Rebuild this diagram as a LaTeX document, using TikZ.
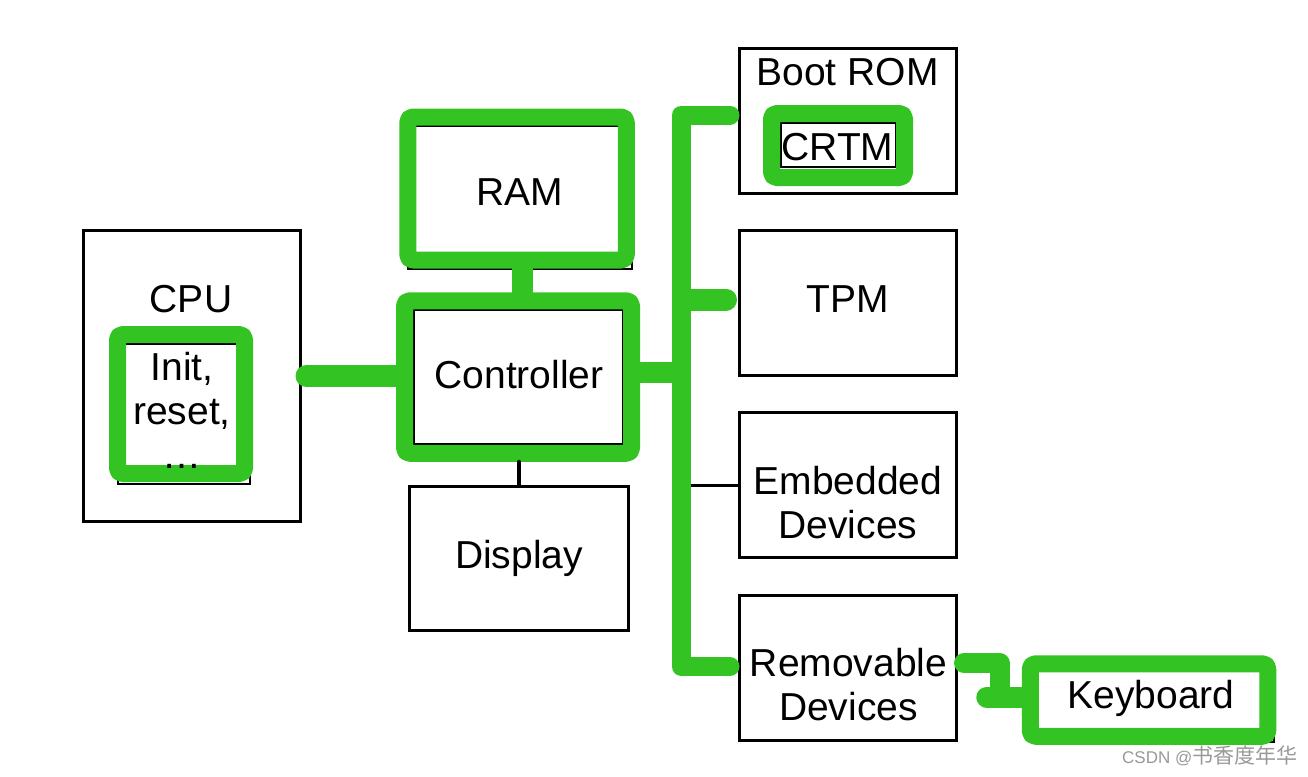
\documentclass[tikz,border=0pt]{standalone}
\usepackage{fontspec}
\setmainfont{Liberation Sans}
\newfontfamily\cjk{Noto Sans CJK SC}
\usetikzlibrary{calc}
\definecolor{ttcctt}{rgb}{0.2,0.77,0.14}
\definecolor{zzzzzz}{rgb}{0.6,0.6,0.6}
\begin{document}
\begin{tikzpicture}[line cap=round,line join=round,x=1pt,y=-1pt,
	every node/.append style={font=\fontsize{39}{44}\selectfont},
	box/.style={draw=black,line width=3pt,line join=miter,fill=white,inner sep=0pt,align=center,minimum width=217pt,minimum height=145pt},
	under/.style={draw=black,line width=2.5pt,line join=miter,fill=white,inner sep=0pt},
	hl/.style={draw=ttcctt,line width=17pt,rounded corners=5pt,inner sep=0pt},
	txt/.style={inner sep=0pt,align=center},
	wire/.style={draw=ttcctt,line width=21pt}]
		\path[fill=white,use as bounding box] (0,0) rectangle (1308,776);
		% CPU
		\node[box,minimum height=291pt] (cpu) at (192,376) {};
		\node[txt] (cpulbl) at (191,299.5) {CPU};
		\node[under,minimum width=132pt,minimum height=140pt] (initbg) at (184,414) {};
		\node[hl,minimum width=127pt,minimum height=139pt] (init) at (181,404) {};
		\node[txt] (initlbl) at (182,410) {Init,\\reset,\\…};
		% RAM, controller, display
		\node[under,minimum width=224pt,minimum height=143pt] (rambg) at (520,197.5) {};
		\node[hl,minimum width=218.5pt,minimum height=143pt] (ram) at (517,188.5) {};
		\node[txt] (ramlbl) at (520,192.5) {RAM};
		\node[under,minimum width=209pt,minimum height=134pt] (ctrlbg) at (518.5,377) {};
		\node[hl,minimum width=227pt,minimum height=152.5pt] (ctrl) at (518,377) {};
		\node[txt] (ctrllbl) at (519,375) {Controller};
		\node[box,minimum width=219pt,minimum height=144pt] (disp) at (519,558.5) {Display};
		% right column
		\node[box] (boot) at (848,121) {};
		\node[txt] (bootlbl) at (847.5,72) {Boot ROM};
		\node[under,minimum width=115pt,minimum height=44pt] (crtmbg) at (838.5,145) {};
		\node[hl,minimum width=133pt,minimum height=64pt] (crtm) at (838,145.5) {};
		\node[txt] (crtmlbl) at (837.5,147.5) {CRTM};
		\node[box] (tpm) at (848,303) {};
		\node[txt] (tpmlbl) at (848,299) {TPM};
		\node[box] (emb) at (848,485) {};
		\node[txt] (emblbl) at (848,502.5) {Embedded\\Devices};
		\node[box] (rem) at (848,667.5) {};
		\node[txt] (remlbl) at (848.5,684.5) {Removable\\Devices};
		% keyboard
		\node[under,minimum width=244pt,minimum height=78pt] (kbdbg) at (1152,703) {};
		\node[hl,minimum width=237.5pt,minimum height=72.5pt] (kbd) at (1149,700) {};
		\node[txt] (kbdlbl) at (1151,698) {Keyboard};
		% bus and connectors
		\coordinate (jtop) at (681,115);
		\coordinate (jbot) at (681,666.5);
		\coordinate (jtpm) at (681,299.5);
		\coordinate (jctrl) at (681,372.5);
		\coordinate (kup) at (999.5,663);
		\coordinate (kdown) at (999.5,697);
		\draw [line width=4pt] (disp.north |- ctrl.south) -- (disp.north);
		\draw [line width=3pt] (emb.west) -- (emb.west -| jtop);
		\draw [wire,line width=19pt] ($(boot.west |- jtop)+(-8,0)$) -- (jtop) -- (jbot) -- ($(rem.west |- jbot)+(-8,0)$);
		\draw [wire,line width=22pt] ($(jtpm)+(10,0)$) -- ($(tpm.west |- jtpm)+(-12,0)$);
		\draw [wire] (ctrl.east |- jctrl) -- ($(jctrl)+(-2,0)$);
		\draw [wire,line width=22pt] ([xshift=4.5pt]cpu.east) -- (cpu.east -| ctrl.west);
		\draw [wire] ([xshift=5pt]ram.south) -- ([xshift=5pt]ram.south |- ctrl.north);
		\draw [wire,line width=20pt] ($(rem.east |- kup)+(6,0)$) -- (kup) -- (kdown);
		\draw [wire] ($(kbd.west |- kdown)+(-35,0)$) -- (kbd.west |- kdown);
		\node[anchor=west,inner sep=0pt,text=zzzzzz,font=\fontsize{17}{19}\selectfont] (mark) at (1122,756) {CSDN @{\cjk\fontsize{21}{22}\selectfont 书香度年华}};
		\end{tikzpicture}
\end{document}
